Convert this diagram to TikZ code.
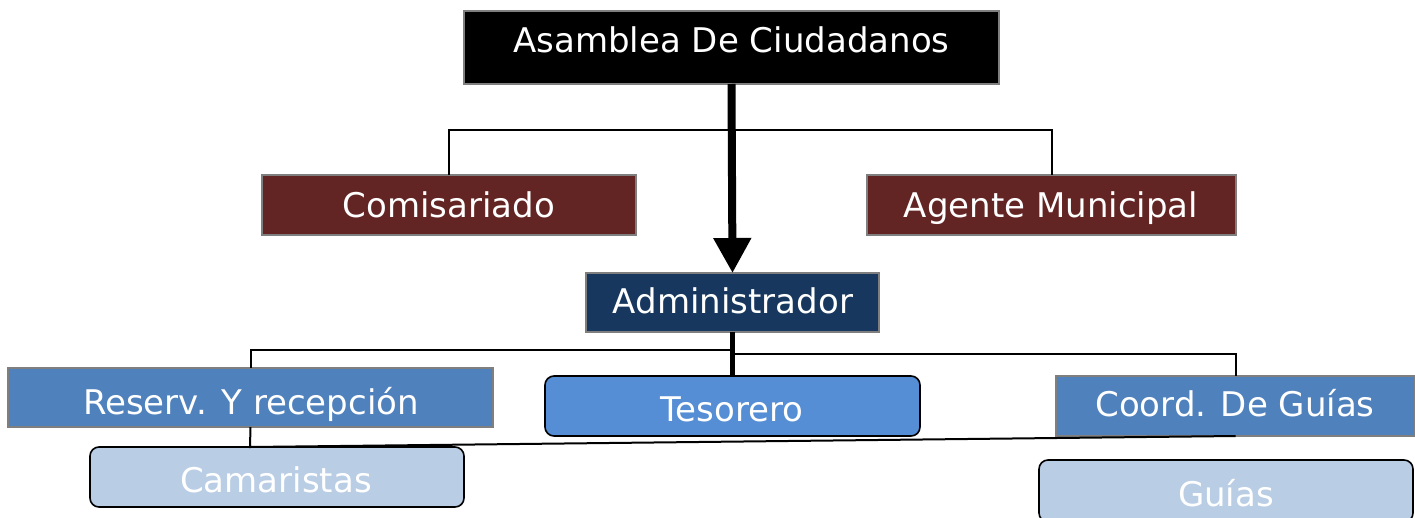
\documentclass[tikz,border=0pt]{standalone}
\usepackage{fontspec}
\setmainfont{DejaVu Sans}
\usetikzlibrary{arrows.meta}
\definecolor{maroon}{HTML}{632523}
\definecolor{navy}{HTML}{17375E}
\definecolor{midblue}{HTML}{4F81BD}
\definecolor{tesblue}{HTML}{558ED5}
\definecolor{lightblue}{HTML}{B9CDE5}
\definecolor{bordergray}{HTML}{7F7F7F}
\tikzset{
  box/.style={rectangle, draw=bordergray, line width=2pt, inner sep=0pt, outer sep=0pt},
  rbox/.style={rectangle, rounded corners=9pt, draw=black, line width=1.6pt, inner sep=0pt, outer sep=0pt},
  lbl/.style={anchor=base, text=white, inner sep=0pt, font=\fontsize{34}{40}\selectfont},
  conn/.style={draw=black, line width=2pt},
  thick conn/.style={draw=black, line width=5pt},
  arrow conn/.style={draw=black, line width=8pt}
}
\begin{document}
\begin{tikzpicture}[x=1pt,y=-1pt]
\useasboundingbox (0,0) rectangle (1415,517);
% boxes
\node[box, fill=black, minimum width=535pt, minimum height=73pt] (asam) at (731.5,47.5) {};
\node[box, fill=maroon, minimum width=374pt, minimum height=60pt] (comi) at (449,205) {};
\node[box, fill=maroon, minimum width=369pt, minimum height=60pt] (agen) at (1051.5,205) {};
\node[box, fill=navy, minimum width=293pt, minimum height=59pt] (admi) at (732.5,302.5) {};
\node[box, fill=midblue, minimum width=485pt, minimum height=59pt] (rese) at (250.5,397.5) {};
\node[rbox, fill=tesblue, minimum width=375pt, minimum height=60pt] (teso) at (732.5,406) {};
\node[box, fill=midblue, minimum width=359pt, minimum height=60pt] (coor) at (1235.5,406) {};
\node[rbox, fill=lightblue, minimum width=374pt, minimum height=60pt] (cama) at (277,477) {};
\node[rbox, fill=lightblue, minimum width=374pt, minimum height=62pt] (guia) at (1226,491) {};
% labels
\node[lbl] (tasam) at (731.5,52) {Asamblea De Ciudadanos};
\node[lbl] (tcomi) at (449,217) {Comisariado};
\node[lbl] (tagen) at (1051,217) {Agente Municipal};
\node[lbl] (tadmi) at (733,313) {Administrador};
\node[lbl] (trese) at (251,414) {Reserv. Y recepción};
\node[lbl] (tteso) at (732,421) {Tesorero};
\node[lbl] (tcoor) at (1235,416) {Coord. De Guías};
\node[lbl] (tcama) at (276,492) {Camaristas};
\node[lbl] (tguia) at (1226,506) {Guías};
% connectors
\coordinate (camtop) at (250,447);
\draw[conn] (comi.north) -- ++(0,-45) -| (agen.north);
\draw[conn] (rese.north) -- ++(0,-18) -| (admi.south);
\draw[conn] (admi.south) ++(0,22) -| (coor.north);
\draw[conn] (rese.south) -- (camtop) -- (coor.south);
\draw[thick conn] (admi.south) -- (teso.north);
\draw[arrow conn, -{Triangle[width=36pt, length=35pt]}] (asam.south) -- (admi.north);
\end{tikzpicture}
\end{document}
